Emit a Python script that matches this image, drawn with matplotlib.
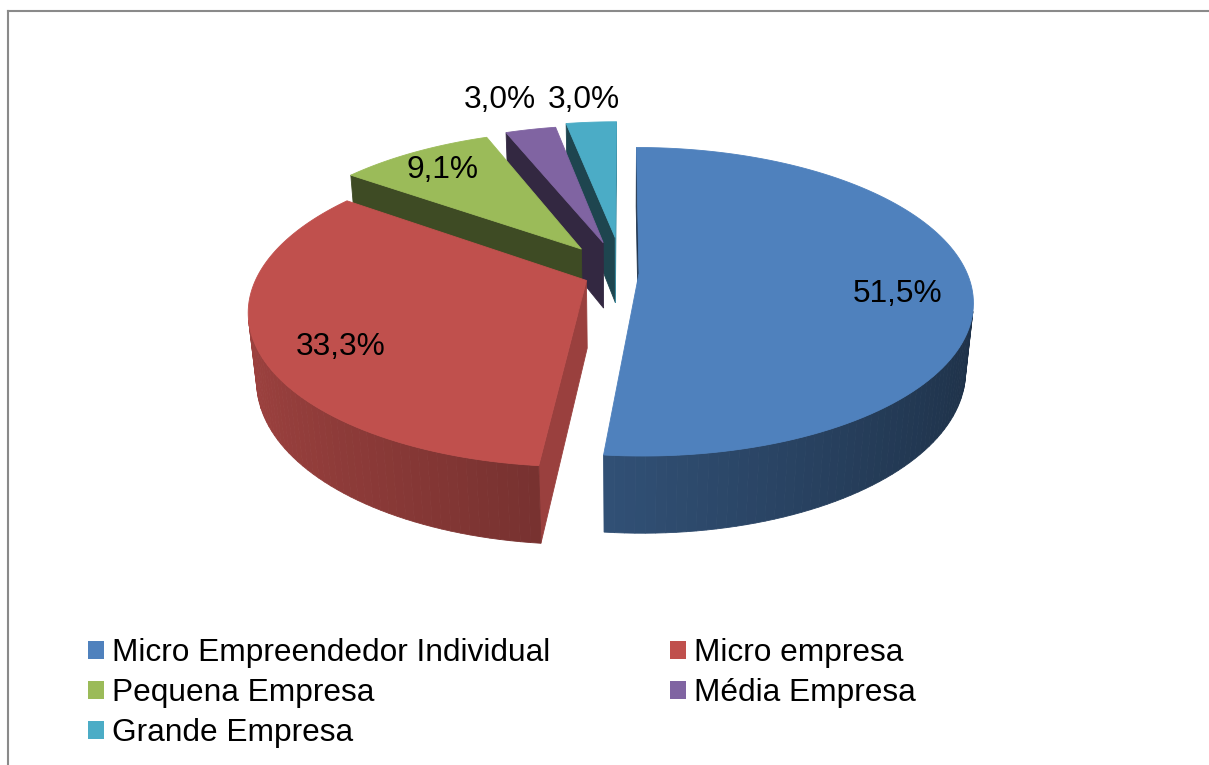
import numpy as np
import matplotlib
matplotlib.use('Agg')
import matplotlib.pyplot as plt
import matplotlib.colors as mcolors
from matplotlib.patches import Polygon, Rectangle
from matplotlib.lines import Line2D

plt.rcParams['font.family'] = ['Liberation Sans', 'DejaVu Sans']

# data
categories = ['Micro Empreendedor Individual', 'Micro empresa', 'Pequena Empresa',
              'Média Empresa', 'Grande Empresa']
values = [51.5, 33.3, 9.1, 3.0, 3.0]
labels = ['51,5%', '33,3%', '9,1%', '3,0%', '3,0%']
colors = ['#4F81BD', '#C0504D', '#9BBB59', '#8064A2', '#4BACC6']

# style of the exploded 3d pie
explode = [0.05, 0.12, 0.21, 0.22, 0.25]
label_r = [0.78, 0.79, 0.80, 1.33, 1.23]
label_turn = [-7, 6.5, 0.5, 2, 0.5]

W, H = 1209, 765
fig = plt.figure(figsize=(W / 100, H / 100), dpi=100)
ax = fig.add_axes([0, 0, 1, 1])
ax.set_xlim(0, W)
ax.set_ylim(H, 0)
ax.axis('off')

# camera: elevation, perspective strength, scale, screen centre, pie thickness
el = np.radians(27.0)
se, ce = np.sin(el), np.cos(el)
persp = 0.2065
scale = 328
cx, cy = 622.6, 273
thick = 0.235
cam = np.array([0, -ce / persp, se / persp])


def proj(X, Y, Z):
    w = 1 + persp * (Y * ce - Z * se)
    return cx + scale * X / w, cy - scale * (Y * se + Z * ce) / w


def facing(p, n):
    return np.dot(cam - np.asarray(p), np.asarray(n)) > 0


def shade(c, f):
    r, g, b = mcolors.to_rgb(c)
    return (r * f, g * f, b * f)


def poly(pts, col, z):
    ax.add_patch(Polygon([proj(*p) for p in pts], closed=True, facecolor=col,
                         edgecolor=col, lw=0.6, zorder=z))


fr = np.array(values) / sum(values)
ends = 90 - 360 * np.cumsum(fr)
starts = ends + 360 * fr

slices = []
for i in range(len(values)):
    mid = np.radians((starts[i] + ends[i]) / 2)
    vx, vy = explode[i] * np.cos(mid), explode[i] * np.sin(mid)
    slices.append((vy, i, vx, mid))
slices.sort(reverse=True)  # back to front

z = 1
for vy, i, vx, mid in slices:
    col = colors[i]
    a0, a1 = np.radians(starts[i]), np.radians(ends[i])
    # radial side faces
    for a, sgn in ((a0, 1), (a1, -1)):
        n = (np.cos(a + sgn * np.pi / 2), np.sin(a + sgn * np.pi / 2), 0)
        rx, ry = vx + np.cos(a), vy + np.sin(a)
        centre = ((vx + rx) / 2, (vy + ry) / 2, -thick / 2)
        if facing(centre, n):
            f = 0.4 if n[0] < 0 else 0.8
            poly([(vx, vy, 0), (rx, ry, 0), (rx, ry, -thick), (vx, vy, -thick)],
                 shade(col, f), z)
    z += 1
    # outer curved wall
    th = np.linspace(a0, a1, max(int(abs(a1 - a0) / np.radians(1.5)), 2) + 1)
    for t0, t1 in zip(th[:-1], th[1:]):
        tm = (t0 + t1) / 2
        p = (vx + np.cos(tm), vy + np.sin(tm), 0)
        if not facing(p, (np.cos(tm), np.sin(tm), 0)):
            continue
        f = 0.6 - 0.22 * np.cos(tm)
        poly([(vx + np.cos(t0), vy + np.sin(t0), 0), (vx + np.cos(t1), vy + np.sin(t1), 0),
              (vx + np.cos(t1), vy + np.sin(t1), -thick), (vx + np.cos(t0), vy + np.sin(t0), -thick)],
             shade(col, f), z)
    z += 1
    # top face
    th = np.linspace(a0, a1, 120)
    pts = [(vx, vy, 0)] + [(vx + np.cos(t), vy + np.sin(t), 0) for t in th]
    poly(pts, col, z)
    z += 1

# data labels
for vy, i, vx, mid in slices:
    a = mid + np.radians(label_turn[i])
    x, y = proj(vx + label_r[i] * np.cos(a), vy + label_r[i] * np.sin(a), 0)
    ax.text(x, y, labels[i], ha='center', va='center', fontsize=22.8, color='black', zorder=50)

# legend, row by row like the original
handles = [Rectangle((0, 0), 1, 1, facecolor=c, edgecolor='none') for c in colors]
order = [0, 2, 4, 1, 3]
fig.legend([handles[k] for k in order], [categories[k] for k in order], ncol=2,
           loc='upper left', bbox_to_anchor=(88 / W, 1 - 638 / H), frameon=False,
           fontsize=22.8, handlelength=0.5, handleheight=0.5, handletextpad=0.25,
           columnspacing=3.8, labelspacing=0.32, borderpad=0, borderaxespad=0)

# chart border (top and left only visible)
fig.add_artist(Line2D([8 / W, 1], [1 - 11 / H, 1 - 11 / H], color='#8a8a8a', lw=1.5))
fig.add_artist(Line2D([8 / W, 8 / W], [1 - 11 / H, 0], color='#8a8a8a', lw=1.5))

fig.savefig('out.png', dpi=100)
